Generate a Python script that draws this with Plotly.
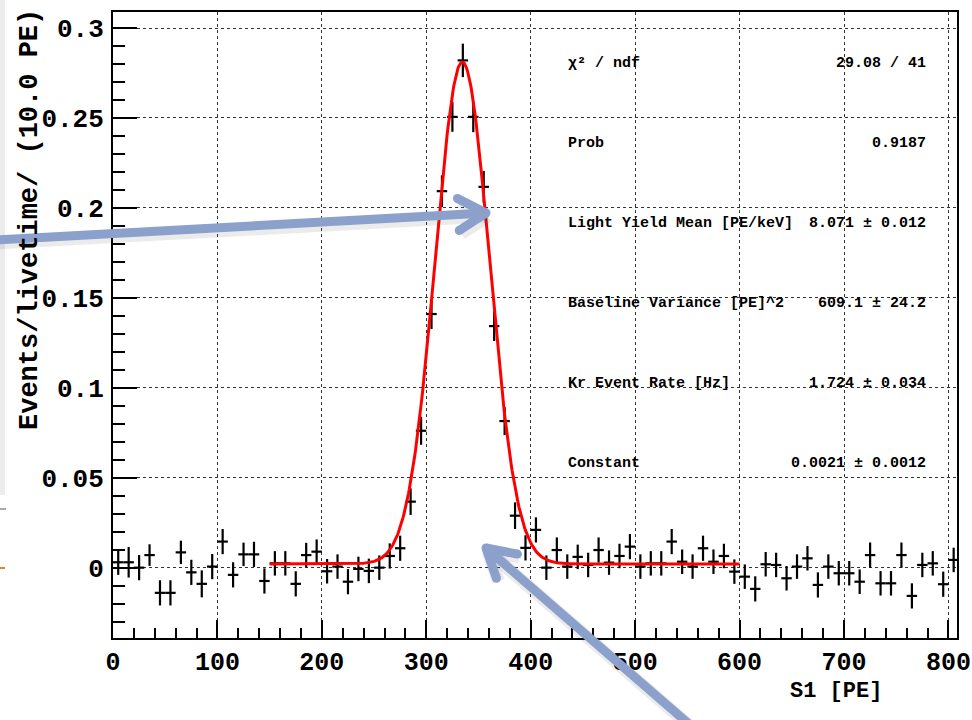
import numpy as np
import plotly.graph_objects as go

# ---------------- data ----------------
bin_centers = list(range(5, 810, 10))  # S1 [PE], 10 PE bins
rate = [
    0.003, 0.003, 0.000, 0.007, -0.014, -0.014, 0.0085, -0.0026, -0.009, 0.0006,
    0.0145, -0.004, 0.0074, 0.0074, -0.0074, 0.0024, 0.0024, -0.009, 0.007, 0.0089,
    -0.002, 0.0006, -0.0078, -0.0007, -0.0018, 0.000, 0.0065, 0.0108,
    0.0367, 0.0761, 0.141, 0.2093, 0.2506, 0.282, 0.2506, 0.2117, 0.1343, 0.0815, 0.0289,
    0.011, 0.021,
    0.000, 0.0098, 0.0006, 0.006, 0.0015, 0.0098, 0.0028, 0.0065, 0.0117, 0.0006,
    0.0024, 0.0024, 0.0145, 0.0033, 0.0006,
    0.0108, 0.0033, 0.0065, -0.0022, -0.005, -0.0118, 0.0019, 0.0015, -0.0059, 0.0006,
    0.0052, -0.0096, 0.0006, -0.0031, -0.0031, -0.0078, 0.007, -0.0087, -0.0087, 0.007,
    -0.0157, 0.0015, 0.0024, -0.0092, 0.0043,
]
rate_err = [
    0.007, 0.0085, 0.007, 0.006, 0.007, 0.007, 0.0065, 0.007, 0.0075, 0.007,
    0.007, 0.007, 0.0065, 0.007, 0.007, 0.0068, 0.0068, 0.007, 0.0068, 0.0068,
    0.0068, 0.0068, 0.007, 0.0068, 0.0068, 0.0068, 0.007, 0.007,
    0.0074, 0.0078, 0.0083, 0.0088, 0.0083, 0.0093, 0.0085, 0.0088, 0.0083, 0.0078, 0.0074,
    0.007, 0.007,
    0.0068, 0.007, 0.0068, 0.0068, 0.0068, 0.007, 0.0068, 0.0068, 0.007, 0.0068,
    0.0068, 0.0068, 0.007, 0.0068, 0.0068,
    0.007, 0.0068, 0.0068, 0.0068, 0.0068, 0.007, 0.0068, 0.0068, 0.0068, 0.0068,
    0.0068, 0.007, 0.0068, 0.0068, 0.0068, 0.0068, 0.007, 0.0068, 0.0068, 0.007,
    0.007, 0.0068, 0.0068, 0.007, 0.0068,
]
bin_half_width = 5

# fit (Gaussian + constant) parameters
fit_range = [150, 600]
fit_mean = 334.5
fit_sigma = 26.0
fit_amp = 0.279
fit_const = 0.0021

stat_labels = ["χ² / ndf", "Prob", "Light Yield Mean [PE/keV]",
               "Baseline Variance [PE]^2", "Kr Event Rate [Hz]", "Constant"]
stat_values = ["29.08 / 41", "0.9187", "8.071 ± 0.012",
               "609.1 ± 24.2", "1.724 ± 0.034", "0.0021 ± 0.0012"]

x_tick_vals = [0, 100, 200, 300, 400, 500, 600, 700, 800]
y_tick_vals = [0, 0.05, 0.1, 0.15, 0.2, 0.25, 0.3]
y_tick_text = ["0", "0.05", "0.1", "0.15", "0.2", "0.25", "0.3"]

# ---------------- layout geometry (pixels) ----------------
W, H = 972, 720
L, R, T, B = 113, 957, 12, 638
FONT = "Liberation Mono, Courier New, monospace"

def px(xp):
    return (xp - L) / (R - L)

def py(yp):
    return (B - yp) / (B - T)

fig = go.Figure()

fig.add_trace(go.Scatter(
    x=bin_centers, y=rate, mode="markers",
    marker=dict(size=1, color="black"),
    error_y=dict(type="data", array=rate_err, visible=True, width=0,
                 thickness=2.2, color="black"),
    error_x=dict(type="constant", value=bin_half_width, visible=True, width=0,
                 thickness=2.2, color="black"),
    showlegend=False, hoverinfo="x+y",
))

fx = np.linspace(fit_range[0], fit_range[1], 600)
fy = fit_amp * np.exp(-0.5 * ((fx - fit_mean) / fit_sigma) ** 2) + fit_const
fig.add_trace(go.Scatter(x=fx, y=fy, mode="lines",
                         line=dict(color="#ff0000", width=3),
                         showlegend=False, hoverinfo="skip"))

annotations = []
stat_y = [64, 143, 223, 303, 383, 463]
for lab, val, yy in zip(stat_labels, stat_values, stat_y):
    annotations.append(dict(xref="paper", yref="paper", x=px(566), y=py(yy),
                            text=lab, showarrow=False, xanchor="left", yanchor="middle",
                            font=dict(family=FONT, size=15, color="black", weight="bold")))
    annotations.append(dict(xref="paper", yref="paper", x=px(928), y=py(yy),
                            text=val, showarrow=False, xanchor="right", yanchor="middle",
                            font=dict(family=FONT, size=15, color="black", weight="bold")))

annotations.append(dict(xref="paper", yref="paper", x=px(30), y=py(220),
                        text="Events/livetime/ (10.0 PE)", textangle=-90, showarrow=False,
                        xanchor="center", yanchor="middle",
                        font=dict(family=FONT, size=27, color="black", weight="bold")))
annotations.append(dict(xref="paper", yref="paper", x=px(884), y=py(691),
                        text="S1 [PE]", showarrow=False, xanchor="right", yanchor="middle",
                        font=dict(family=FONT, size=22, color="black", weight="bold")))

# ---------------- decorative arrows and screenshot edge ----------------
shapes = []
# left-edge remnants of the screenshot
shapes.append(dict(type="rect", xref="paper", yref="paper", x0=px(0), x1=px(5),
                   y0=py(0), y1=py(495), fillcolor="#ececec", line=dict(width=0),
                   layer="above"))
shapes.append(dict(type="line", xref="paper", yref="paper", x0=px(0), x1=px(6),
                   y0=py(509), y1=py(509), line=dict(color="#555555", width=1)))
shapes.append(dict(type="line", xref="paper", yref="paper", x0=px(0), x1=px(5),
                   y0=py(568), y1=py(568), line=dict(color="#d9823b", width=2)))

ARROW = "#8ba1cc"

def arrow(tail, tip, arm_len=32, arm_deg=30, width=9):
    tx, ty = tail
    hx, hy = tip
    d = np.array([tx - hx, ty - hy], dtype=float)
    d /= np.hypot(*d)
    out = []
    segs = [((tx, ty), (hx, hy))]
    for s in (1, -1):
        a = np.deg2rad(arm_deg) * s
        rx = d[0] * np.cos(a) - d[1] * np.sin(a)
        ry = d[0] * np.sin(a) + d[1] * np.cos(a)
        segs.append(((hx, hy), (hx + rx * arm_len, hy + ry * arm_len)))
    for (x0, y0), (x1, y1) in segs:
        out.append(dict(type="line", xref="paper", yref="paper",
                        x0=px(x0 + 2), y0=py(y0 + 3), x1=px(x1 + 2), y1=py(y1 + 3),
                        line=dict(color="rgba(60,60,60,0.10)", width=width + 4),
                        layer="above"))
    for (x0, y0), (x1, y1) in segs:
        out.append(dict(type="line", xref="paper", yref="paper",
                        x0=px(x0), y0=py(y0), x1=px(x1), y1=py(y1),
                        line=dict(color=ARROW, width=width), layer="above"))
    r = width / 2
    for (x0, y0), (x1, y1) in segs[1:]:
        out.append(dict(type="circle", xref="paper", yref="paper",
                        x0=px(x1 - r), x1=px(x1 + r), y0=py(y1 - r), y1=py(y1 + r),
                        fillcolor=ARROW, line=dict(width=0), layer="above"))
    out.append(dict(type="circle", xref="paper", yref="paper",
                    x0=px(hx - r), x1=px(hx + r), y0=py(hy - r), y1=py(hy + r),
                    fillcolor=ARROW, line=dict(width=0), layer="above"))
    return out

shapes += arrow((-5, 240), (486, 213))
shapes += arrow((690, 725), (486, 548))

fig.update_layout(
    width=W, height=H,
    margin=dict(l=L, r=W - R, t=T, b=H - B, pad=0, autoexpand=False),
    paper_bgcolor="white", plot_bgcolor="white",
    annotations=annotations, shapes=shapes,
    showlegend=False,
    xaxis=dict(range=[0, 808.2], tickvals=x_tick_vals, automargin=False,
               ticks="inside", ticklen=18, tickwidth=1.5, tickcolor="black",
               minor=dict(dtick=20, tick0=0, ticks="inside", ticklen=10,
                          tickwidth=1.5, tickcolor="black", showgrid=False),
               showline=True, linecolor="black", linewidth=2, mirror=True,
               showgrid=True, gridcolor="#333333", gridwidth=1, griddash="dot",
               zeroline=False,
               tickfont=dict(family=FONT, size=25, color="black", weight="bold"),
               ticklabelstandoff=0),
    yaxis=dict(range=[-0.0391, 0.3089], tickvals=y_tick_vals, ticktext=y_tick_text,
               automargin=False,
               ticks="inside", ticklen=24, tickwidth=1.5, tickcolor="black",
               minor=dict(dtick=0.01, tick0=0, ticks="inside", ticklen=12,
                          tickwidth=1.5, tickcolor="black", showgrid=False),
               showline=True, linecolor="black", linewidth=2, mirror=True,
               showgrid=True, gridcolor="#333333", gridwidth=1, griddash="dot",
               zeroline=False,
               tickfont=dict(family=FONT, size=26, color="black", weight="bold"),
               ticklabelstandoff=2),
)

# remove the browser's default 8px page margin so the figure sits at (0, 0)
fig.write_html("out.html", config={"displayModeBar": False},
               post_script="document.body.style.margin='0';document.body.style.overflow='hidden';")
